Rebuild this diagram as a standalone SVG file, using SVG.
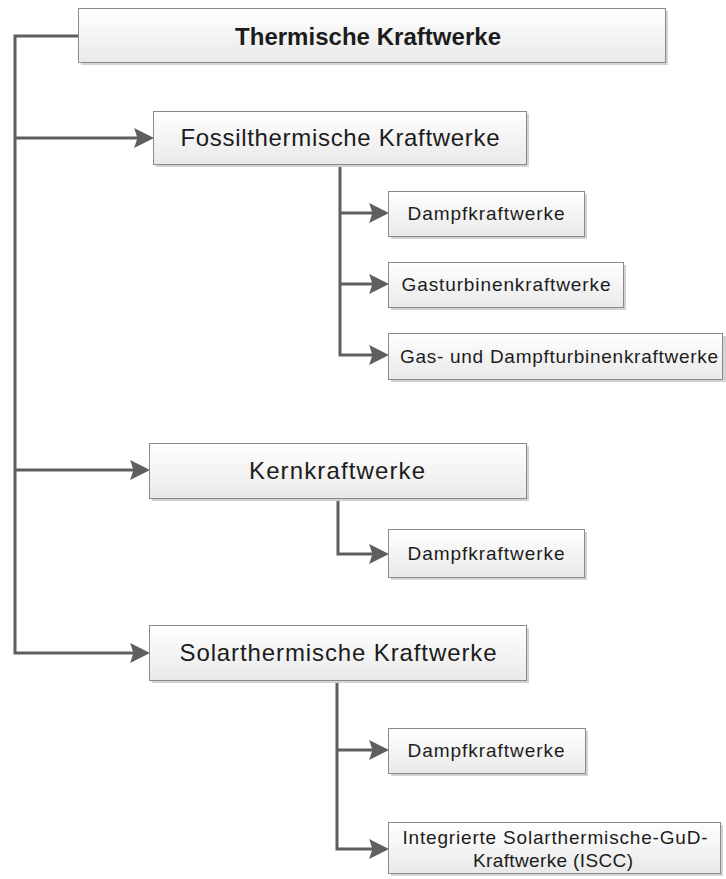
<svg xmlns="http://www.w3.org/2000/svg" width="726" height="879" viewBox="0 0 726 879">
  <defs>
    <linearGradient id="boxFill" x1="0" y1="0" x2="0" y2="1">
      <stop offset="0" stop-color="#ffffff"/>
      <stop offset="1" stop-color="#e9e9e9"/>
    </linearGradient>
    <marker id="arrow" markerUnits="userSpaceOnUse" markerWidth="20" markerHeight="20" viewBox="0 0 18 18" refX="8" refY="9" orient="auto">
      <path d="M0,0 L18,9 L0,18 L3,9 Z" fill="#5f5f5f"/>
    </marker>
    <style>
      .shadow { fill: #d3d3d3; }
      .box { fill: url(#boxFill); stroke: #8a8a8a; stroke-width: 1; }
      .label { font-family: "Liberation Sans", Arial, sans-serif; fill: #1c1c1c; text-anchor: middle; }
      .title { font-size: 24px; font-weight: bold; }
      .l1 { font-size: 24px; }
      .l2 { font-size: 19px; }
      .conn { fill: none; stroke: #5f5f5f; stroke-width: 3; }
    </style>
  </defs>

  <!-- connectors -->
  <g id="connectors">
    <path class="conn" d="M78,36 H15 V653 H139" marker-end="url(#arrow)"/>
    <path class="conn" d="M15,138 H143" marker-end="url(#arrow)"/>
    <path class="conn" d="M15,470 H139" marker-end="url(#arrow)"/>
    <path class="conn" d="M340,164 V355 H378" marker-end="url(#arrow)"/>
    <path class="conn" d="M340,213 H378" marker-end="url(#arrow)"/>
    <path class="conn" d="M340,284 H378" marker-end="url(#arrow)"/>
    <path class="conn" d="M338,498 V554 H378" marker-end="url(#arrow)"/>
    <path class="conn" d="M337,680 V849 H378" marker-end="url(#arrow)"/>
    <path class="conn" d="M337,750 H378" marker-end="url(#arrow)"/>
  </g>

  <g id="thermische">
    <rect class="shadow" x="81" y="11" width="587" height="54"/>
    <rect class="box" x="78.5" y="8.5" width="587" height="54"/>
    <text class="label title" x="368" y="45" textLength="266" lengthAdjust="spacing">Thermische Kraftwerke</text>
  </g>

  <g id="fossil">
    <rect class="shadow" x="156" y="114" width="373" height="53"/>
    <rect class="box" x="153.5" y="111.5" width="373" height="53"/>
    <text class="label l1" x="340" y="146" textLength="319" lengthAdjust="spacing">Fossilthermische Kraftwerke</text>
  </g>

  <g id="fossil-dampf">
    <rect class="shadow" x="391" y="194" width="196" height="45"/>
    <rect class="box" x="388.5" y="191.5" width="196" height="45"/>
    <text class="label l2" x="486" y="220" textLength="157" lengthAdjust="spacing">Dampfkraftwerke</text>
  </g>

  <g id="fossil-gas">
    <rect class="shadow" x="391" y="265" width="235" height="45"/>
    <rect class="box" x="388.5" y="262.5" width="235" height="45"/>
    <text class="label l2" x="506" y="291" textLength="209" lengthAdjust="spacing">Gasturbinenkraftwerke</text>
  </g>

  <g id="fossil-gud">
    <rect class="shadow" x="391" y="336" width="335" height="46"/>
    <rect class="box" x="388.5" y="333.5" width="334" height="46"/>
    <text class="label l2" x="559" y="363" textLength="318" lengthAdjust="spacing">Gas- und Dampfturbinenkraftwerke</text>
  </g>

  <g id="kern">
    <rect class="shadow" x="152" y="446" width="377" height="55"/>
    <rect class="box" x="149.5" y="443.5" width="377" height="55"/>
    <text class="label l1" x="337" y="479" textLength="176" lengthAdjust="spacing">Kernkraftwerke</text>
  </g>

  <g id="kern-dampf">
    <rect class="shadow" x="391" y="532" width="196" height="48"/>
    <rect class="box" x="388.5" y="529.5" width="196" height="48"/>
    <text class="label l2" x="486" y="560" textLength="157" lengthAdjust="spacing">Dampfkraftwerke</text>
  </g>

  <g id="solar">
    <rect class="shadow" x="152" y="628" width="377" height="55"/>
    <rect class="box" x="149.5" y="625.5" width="377" height="55"/>
    <text class="label l1" x="338" y="661" textLength="317" lengthAdjust="spacing">Solarthermische Kraftwerke</text>
  </g>

  <g id="solar-dampf">
    <rect class="shadow" x="391" y="731" width="197" height="45"/>
    <rect class="box" x="388.5" y="728.5" width="197" height="45"/>
    <text class="label l2" x="486" y="757" textLength="157" lengthAdjust="spacing">Dampfkraftwerke</text>
  </g>

  <g id="solar-iscc">
    <rect class="shadow" x="391" y="825" width="332" height="51"/>
    <rect class="box" x="388.5" y="822.5" width="332" height="51"/>
    <text class="label l2" x="555" y="844" textLength="305" lengthAdjust="spacing">Integrierte Solarthermische-GuD-</text>
    <text class="label l2" x="553" y="867" textLength="160" lengthAdjust="spacing">Kraftwerke (ISCC)</text>
  </g>
</svg>
